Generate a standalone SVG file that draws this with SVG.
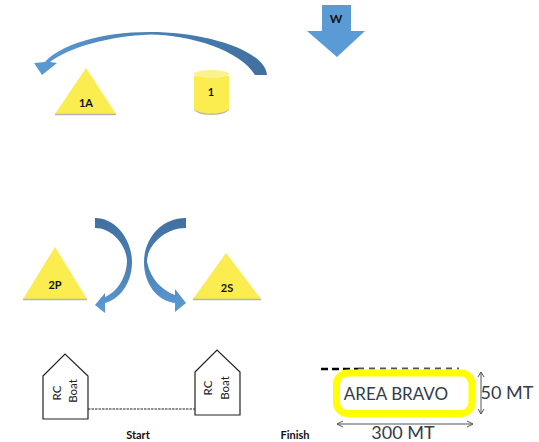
<svg xmlns="http://www.w3.org/2000/svg" width="539" height="442" viewBox="0 0 539 442">
<style>
.lb{font-family:Lato,"Liberation Sans",sans-serif;font-weight:700;font-size:11px;fill:#111;text-anchor:middle}
.big{font-family:Lato,"Liberation Sans",sans-serif;font-size:18px;fill:#333c48;text-anchor:middle}
.boat{fill:#fff;stroke:#222;stroke-width:1.2}
.rc{font-family:Lato,"Liberation Sans",sans-serif;font-size:11.5px;fill:#222;text-anchor:middle}
.tri{fill:#fbec4f}
.base{stroke:#b5b5b5;stroke-width:1.5;fill:none}
.dim{stroke:#555;stroke-width:1;fill:none}
</style>
<defs>
<linearGradient id="gh" x1="1" y1="0" x2="0" y2="0"><stop offset="0" stop-color="#40709f"/><stop offset="0.5" stop-color="#4a80b5"/><stop offset="1" stop-color="#5b9bd5"/></linearGradient>
<linearGradient id="gv" x1="0" y1="0" x2="0" y2="1"><stop offset="0" stop-color="#40709f"/><stop offset="0.5" stop-color="#4a80b5"/><stop offset="1" stop-color="#5b9bd5"/></linearGradient>
</defs>
<g id="connectors">
<path id="turn-1" fill="url(#gh)" d="M267 75C265 50 205 32 150 32C100 32 60 45 45 62L34 63L42 75L57 63L50 62C70 47 110 36 150 34.500C190 35 240 50 255 75Z"/>
<path id="turn-2p" fill="url(#gv)" d="M95 218C116 218 132 240 132 262C132 285 118 300 105 303L105 313L95 305L105 293L105 297C115 293 126 280 127 262C127 245 112 228 95 228Z"/>
<path id="turn-2s" fill="url(#gv)" d="M186 218C160 218 144 240 144 262C144 285 158 301 175 303L175 312L186 303L175 289L175 295C162 290 151 280 147 262C147 245 165 228 186 228Z"/>
<path d="M88 409H195" fill="none" stroke="#222" stroke-width="1" stroke-dasharray="2.500 1"/>
<path d="M321 369H358" fill="none" stroke="#000" stroke-width="2.500" stroke-dasharray="7 4"/>
<path d="M358 368.500H459" fill="none" stroke="#555" stroke-width="2" stroke-dasharray="6 5"/>
<path class="dim" d="M481 372V414M478 377L481 372L484 377M478 409L481 414L484 409"/>
<path class="dim" d="M337 424H473M343 421L337 424L343 427M467 421L473 424L467 427"/>
</g>
<g id="wind">
<path fill="#5b9bd5" d="M322 5H351V31H365L337 57L307 31H322Z"/>
<text class="lb" x="336" y="23" style="font-size:12px">W</text>
</g>
<g id="mark-1a">
<path class="tri" d="M86 68L116 114H55Z"/><path class="base" d="M55 114.500H116"/>
<text class="lb" x="86" y="107">1A</text>
</g>
<g id="mark-1">
<path fill="#bdb9a0" d="M194 76V109C194 112 202 115 211.500 115S229 112 229 109V76Z"/>
<path fill="#fbec4f" d="M194 76V108C194 111 202 113.500 211.500 113.500S229 111 229 108V76Z"/>
<ellipse cx="211.500" cy="74" rx="17.500" ry="4" fill="#fcf28c"/>
<text class="lb" x="211" y="96">1</text>
</g>
<g id="mark-2p">
<path class="tri" d="M55 247L87 299H23Z"/><path class="base" d="M23 299.500H87"/>
<text class="lb" x="55" y="289">2P</text>
</g>
<g id="mark-2s">
<path class="tri" d="M226 253L261 299H193Z"/><path class="base" d="M193 299.500H261"/>
<text class="lb" x="227" y="292">2S</text>
</g>
<g id="boat-left">
<path class="boat" d="M43 376L65 354L88 376V419H43Z"/>
<text class="rc" transform="translate(61 393) rotate(-90)">RC</text>
<text class="rc" transform="translate(77 391) rotate(-90)">Boat</text>
</g>
<g id="boat-right">
<path class="boat" d="M195 372L217 350L240 372V415H195Z"/>
<text class="rc" transform="translate(212 388) rotate(-90)">RC</text>
<text class="rc" transform="translate(229 388) rotate(-90)">Boat</text>
</g>
<text class="lb" x="138" y="439">Start</text>
<text class="lb" x="295" y="439">Finish</text>
<g id="area-bravo">
<rect x="336.500" y="373" width="135.500" height="40.500" rx="11" fill="#fff" stroke="#ffff00" stroke-width="7"/>
<text class="big" x="396" y="400" style="font-size:17px">AREA BRAVO</text>
</g>
<text class="big" x="507" y="399">50 MT</text>
<text class="big" x="403" y="439">300 MT</text>
</svg>
